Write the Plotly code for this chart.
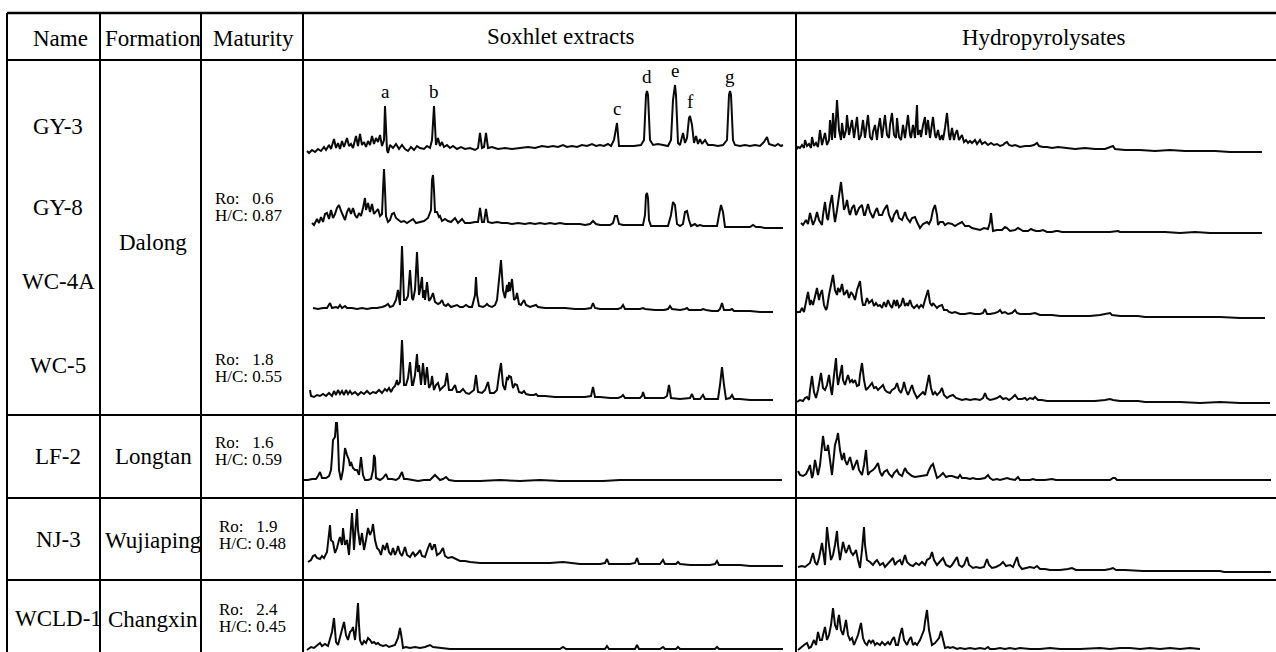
import plotly.graph_objects as go

# ---------------------------------------------------------------------------
# Chromatogram traces: (retention time [min], abundance [arb. units])
# ---------------------------------------------------------------------------
SOX_GY3 = [(5.7,9),(5.9,7),(6.2,10),(6.5,8),(6.8,11),(7.1,9),(7.4,13),(7.6,10),(7.9,15),(8.1,11),(8.4,21),(8.6,12),(8.8,17),(9.0,11),(9.2,19),(9.4,13),(9.7,22),(9.9,14),(10.1,16),(10.3,12),(10.6,24),(10.8,14),(11.0,26),(11.2,15),(11.4,18),(11.6,13),(11.8,19),(12.0,15),(12.2,24),(12.4,16),(12.6,22),(12.8,18),(13.0,25),(13.2,14),(13.4,20),(13.5,54),(13.7,10),(13.8,7),(14.0,15),(14.3,12),(14.6,16),(14.9,11),(15.2,15),(15.5,11),(15.8,9),(16.1,13),(16.4,10),(16.7,14),(17.0,12),(17.4,11),(17.7,14),(18.0,12),(18.2,20),(18.4,54),(18.6,15),(18.8,22),(19.0,14),(19.2,18),(19.4,13),(19.7,15),(20.0,12),(20.3,14),(20.7,11),(21.1,13),(21.5,11),(22.0,12),(22.5,10),(22.8,12),(23.0,27),(23.2,12),(23.4,13),(23.6,27),(23.8,12),(24.2,13),(24.8,11),(25.5,12),(26.2,11),(27.0,12),(27.8,13),(28.5,12),(29.2,14),(29.8,13),(30.3,14),(30.8,13),(31.3,15),(31.7,13),(32.2,14),(32.7,13),(33.2,15),(33.7,14),(34.2,16),(34.6,14),(35.0,15),(35.4,14),(35.8,16),(36.1,14),(36.4,20),(36.7,37),(36.9,14),(37.2,14),(37.8,14),(38.4,14),(39.1,15),(39.4,20),(39.6,65),(39.7,69),(39.8,65),(40.0,20),(40.3,15),(40.8,16),(41.3,15),(41.8,14),(42.1,20),(42.3,60),(42.5,75),(42.6,65),(42.8,17),(43.0,15),(43.3,27),(43.5,17),(43.7,22),(43.9,42),(44.0,44),(44.2,35),(44.4,17),(44.6,24),(44.8,16),(45.0,21),(45.2,16),(45.5,20),(45.8,15),(46.3,15),(46.8,14),(47.3,15),(47.7,20),(47.9,65),(48.0,69),(48.1,65),(48.3,20),(48.5,15),(49.0,14),(49.5,15),(50.0,14),(50.5,15),(51.0,14),(51.4,18),(51.7,23),(51.9,16),(52.2,15),(52.5,14),(52.8,16),(53.1,14),(53.3,15)]

SOX_GY8 = [(6.2,17),(6.4,15),(6.7,21),(6.9,17),(7.1,23),(7.3,18),(7.5,26),(7.7,27),(7.9,21),(8.1,30),(8.3,22),(8.5,26),(8.7,32),(8.9,35),(9.1,29),(9.3,25),(9.5,20),(9.7,28),(9.9,32),(10.1,26),(10.3,32),(10.5,25),(10.7,22),(10.9,27),(11.1,24),(11.3,32),(11.5,42),(11.6,30),(11.8,37),(12.0,28),(12.2,36),(12.4,26),(12.6,28),(12.8,31),(13.0,24),(13.2,26),(13.3,50),(13.4,71),(13.5,50),(13.6,24),(13.8,18),(14.0,20),(14.2,26),(14.4,27),(14.6,22),(14.8,20),(15.1,18),(15.4,19),(15.7,17),(16.0,19),(16.3,21),(16.6,17),(17.0,18),(17.4,19),(17.8,22),(18.1,30),(18.2,60),(18.3,65),(18.4,50),(18.5,28),(18.7,28),(18.9,23),(19.0,24),(19.2,19),(19.5,21),(19.8,19),(20.1,18),(20.5,22),(20.8,17),(21.2,21),(21.5,17),(22.0,17),(22.5,18),(22.8,18),(23.0,32),(23.2,18),(23.4,18),(23.6,31),(23.8,18),(24.2,17),(24.7,18),(25.2,17),(25.7,17),(26.2,16),(26.8,17),(27.5,16),(28.0,17),(28.5,16),(29.0,17),(29.5,16),(30.0,17),(30.5,16),(31.0,17),(31.5,16),(32.0,16),(32.5,16),(33.0,16),(33.5,15),(34.0,16),(34.3,19),(34.6,16),(35.0,15),(35.5,15),(36.0,15),(36.3,17),(36.5,24),(36.7,24),(36.9,16),(37.3,15),(38.0,15),(38.7,15),(39.3,15),(39.5,25),(39.6,45),(39.7,47),(39.8,42),(39.9,20),(40.1,14),(40.6,14),(41.2,14),(41.8,14),(42.1,25),(42.3,38),(42.5,35),(42.7,16),(43.0,14),(43.3,16),(43.5,28),(43.7,29),(43.9,20),(44.1,14),(44.3,15),(44.5,16),(44.7,14),(45.0,15),(45.3,14),(45.7,14),(46.2,14),(46.7,14),(46.9,25),(47.1,35),(47.3,28),(47.5,13),(48.0,13),(48.5,13),(49.0,13),(49.5,13),(50.0,13),(50.3,15),(50.6,13),(51.0,13),(51.5,12),(52.0,12),(52.5,12),(53.0,12),(53.3,12)]

SOX_WC4A = [(6.3,12),(6.8,11),(7.3,12),(7.7,12),(8.0,17),(8.2,12),(8.6,13),(8.8,12),(9.0,15),(9.2,12),(9.5,14),(9.7,12),(10.2,12),(10.7,11),(11.2,12),(11.7,11),(12.2,12),(12.7,12),(13.2,13),(13.5,14),(13.8,16),(14.0,13),(14.3,14),(14.6,20),(14.8,30),(14.9,22),(15.0,15),(15.2,74),(15.4,20),(15.6,20),(15.8,24),(16.0,50),(16.2,22),(16.3,20),(16.5,30),(16.7,68),(16.9,25),(17.0,30),(17.2,43),(17.3,22),(17.4,30),(17.5,20),(17.7,38),(17.9,19),(18.1,22),(18.3,27),(18.5,18),(18.8,16),(19.0,17),(19.2,20),(19.4,15),(19.6,14),(19.8,16),(20.1,13),(20.4,14),(20.7,15),(21.0,13),(21.3,13),(21.6,15),(21.9,13),(22.2,13),(22.5,25),(22.6,43),(22.7,25),(22.9,14),(23.3,13),(23.5,14),(23.7,16),(23.9,14),(24.2,13),(24.5,15),(24.7,20),(24.9,40),(25.1,60),(25.3,30),(25.5,22),(25.7,35),(25.8,28),(25.9,38),(26.0,29),(26.2,41),(26.4,20),(26.6,22),(26.7,27),(26.9,16),(27.1,15),(27.4,20),(27.6,15),(28.0,13),(28.4,14),(28.6,15),(28.8,13),(29.5,12),(30.5,12),(31.5,12),(32.5,11),(33.5,11),(34.1,12),(34.3,17),(34.5,12),(35.0,11),(36.0,11),(36.8,11),(37.1,12),(37.3,15),(37.5,11),(38.2,11),(39.0,11),(39.3,12),(39.5,11),(40.5,10),(41.4,10),(41.8,11),(42.0,14),(42.2,11),(43.0,10),(43.5,11),(43.7,12),(43.9,10),(44.5,10),(45.1,10),(45.3,11),(45.6,10),(46.2,9),(46.8,9),(47.0,11),(47.2,17),(47.4,10),(48.0,10),(48.2,11),(48.4,9),(49.0,9),(50.0,9),(51.0,8),(52.3,8)]

SOX_WC5 = [(6.0,20),(6.1,14),(6.4,13),(6.7,15),(7.0,14),(7.3,16),(7.6,14),(7.9,17),(8.2,14),(8.4,19),(8.6,15),(8.8,20),(9.0,16),(9.2,19),(9.4,15),(9.6,20),(9.8,16),(10.0,19),(10.2,16),(10.5,18),(10.8,15),(11.1,18),(11.4,16),(11.7,19),(12.0,16),(12.3,18),(12.6,17),(12.9,20),(13.2,17),(13.5,21),(13.7,19),(13.9,22),(14.1,18),(14.3,22),(14.5,24),(14.7,30),(14.8,25),(15.0,28),(15.2,70),(15.4,25),(15.6,25),(15.8,32),(16.0,48),(16.2,25),(16.3,25),(16.5,35),(16.7,56),(16.8,38),(16.9,45),(17.1,25),(17.3,47),(17.5,25),(17.7,43),(17.9,22),(18.1,26),(18.2,34),(18.4,20),(18.6,25),(18.8,27),(19.0,20),(19.2,22),(19.5,25),(19.7,37),(19.9,20),(20.2,20),(20.5,25),(20.7,18),(21.0,18),(21.3,21),(21.6,17),(21.9,16),(22.2,18),(22.4,20),(22.6,35),(22.8,18),(23.2,17),(23.5,20),(23.8,28),(24.0,17),(24.4,17),(24.7,20),(24.9,35),(25.1,47),(25.3,25),(25.5,20),(25.7,33),(25.8,30),(25.9,34),(26.1,33),(26.3,22),(26.5,26),(26.7,25),(26.9,18),(27.2,17),(27.4,19),(27.6,16),(28.0,15),(28.4,15),(28.6,16),(28.8,14),(29.5,14),(30.5,13),(31.5,13),(32.5,13),(33.5,13),(34.1,14),(34.3,23),(34.5,13),(35.0,13),(36.0,12),(36.8,12),(37.1,13),(37.3,15),(37.5,12),(38.2,12),(39.0,12),(39.2,14),(39.3,18),(39.5,12),(40.5,12),(41.4,12),(41.7,14),(41.9,25),(42.1,12),(43.0,11),(44.0,12),(44.2,16),(44.4,11),(45.0,11),(45.3,15),(45.5,11),(46.2,11),(46.8,11),(47.0,25),(47.2,43),(47.4,25),(47.6,11),(48.0,12),(48.2,15),(48.4,11),(49.0,11),(50.0,10),(51.0,10),(52.3,10)]

SOX_LF2 = [(5.4,18),(5.8,18),(6.2,19),(6.6,19),(6.8,22),(7.0,26),(7.2,20),(7.6,20),(7.9,22),(8.1,28),(8.2,41),(8.3,58),(8.5,61),(8.6,75),(8.7,75),(8.8,58),(8.9,28),(9.1,18),(9.3,28),(9.5,50),(9.7,43),(9.9,38),(10.0,32),(10.1,36),(10.3,30),(10.5,28),(10.7,28),(10.9,23),(11.1,41),(11.3,23),(11.5,18),(11.8,18),(12.1,19),(12.3,28),(12.4,43),(12.5,40),(12.6,20),(13.0,18),(13.3,20),(13.6,24),(13.8,19),(14.2,19),(14.6,18),(14.9,20),(15.2,26),(15.4,19),(15.7,19),(16.2,18),(16.8,17),(17.4,18),(18.0,18),(18.3,21),(18.5,23),(18.7,21),(19.0,18),(19.3,19),(19.6,21),(19.9,18),(20.5,17),(21.5,17),(23.0,17),(25.0,18),(27.0,17),(29.0,18),(31.0,17),(33.0,17),(35.3,17),(37.0,18),(40.0,18),(45.0,18),(50.0,18),(53.2,18)]

SOX_NJ3 = [(5.8,18),(6.1,20),(6.3,24),(6.5,25),(6.7,22),(7.0,21),(7.2,24),(7.4,22),(7.7,28),(7.9,45),(8.0,55),(8.1,40),(8.3,38),(8.5,27),(8.7,32),(8.9,40),(9.0,43),(9.2,35),(9.3,52),(9.5,35),(9.7,40),(9.9,25),(10.1,50),(10.2,67),(10.3,50),(10.4,30),(10.5,45),(10.7,71),(10.8,50),(11.0,35),(11.2,47),(11.4,30),(11.6,40),(11.8,52),(12.0,45),(12.2,50),(12.3,56),(12.5,40),(12.7,32),(12.9,30),(13.1,25),(13.3,35),(13.5,30),(13.7,37),(13.9,28),(14.1,25),(14.3,32),(14.5,25),(14.7,30),(14.8,34),(15.0,27),(15.2,24),(15.4,30),(15.5,33),(15.7,25),(16.0,23),(16.3,28),(16.5,24),(16.8,27),(17.0,30),(17.2,24),(17.5,23),(17.8,32),(18.0,37),(18.2,30),(18.4,35),(18.5,35),(18.7,25),(19.0,27),(19.3,32),(19.5,24),(19.8,22),(20.2,23),(20.6,21),(21.0,19),(21.5,19),(22.0,18),(23.0,17),(24.0,17),(25.0,17),(26.0,17),(27.0,17),(28.0,17),(29.0,17),(30.0,17),(31.3,18),(32.0,17),(33.0,16),(34.0,16),(35.0,16),(35.5,17),(35.7,21),(35.9,16),(37.0,16),(38.0,16),(38.5,17),(38.7,22),(38.9,16),(40.0,16),(41.0,16),(41.3,20),(41.5,16),(42.6,16),(42.8,18),(43.0,16),(44.0,15),(45.0,15),(46.0,15),(46.5,16),(46.7,19),(46.9,15),(48.0,15),(49.0,15),(50.0,14),(51.0,14),(52.0,14),(53.3,14)]

SOX_WCLD1 = [(5.7,2),(6.1,5),(6.4,4),(6.7,7),(7.0,9),(7.2,6),(7.5,8),(7.8,6),(8.0,12),(8.2,20),(8.3,27),(8.4,34),(8.5,22),(8.6,10),(8.8,7),(9.0,14),(9.2,22),(9.4,30),(9.6,17),(9.8,12),(10.0,20),(10.2,22),(10.3,25),(10.5,12),(10.6,22),(10.7,42),(10.8,49),(10.9,27),(11.0,12),(11.2,7),(11.4,11),(11.6,9),(11.8,14),(12.0,12),(12.2,9),(12.4,10),(12.6,8),(12.8,9),(13.0,7),(13.3,6),(13.6,7),(13.9,5),(14.2,6),(14.5,7),(14.8,14),(15.0,24),(15.2,12),(15.3,4),(15.6,5),(16.0,4),(16.5,5),(17.0,4),(17.5,5),(18.0,7),(18.3,5),(19.0,4),(20.0,3),(21.0,3),(23.0,3),(25.0,3),(27.0,3),(28.3,3),(29.5,3),(31.0,3),(31.3,5),(31.6,3),(33.0,3),(35.0,3),(35.5,3),(35.7,6),(35.9,3),(37.0,3),(38.0,3),(38.5,3),(38.7,7),(38.9,3),(40.0,3),(41.0,3),(41.3,5),(41.5,3),(42.6,3),(42.8,5),(43.0,3),(45.0,3),(46.5,3),(46.7,5),(46.9,3),(49.0,3),(51.0,3),(53.3,3)]

HYD_GY3 = [(4.6,10),(4.8,13),(5.0,12),(5.2,15),(5.4,12),(5.5,20),(5.7,14),(5.9,16),(6.1,12),(6.2,23),(6.4,14),(6.6,17),(6.8,13),(7.0,30),(7.2,15),(7.3,20),(7.5,27),(7.7,15),(7.9,20),(8.0,40),(8.2,20),(8.3,47),(8.5,22),(8.7,60),(8.9,30),(9.1,20),(9.2,37),(9.4,22),(9.6,30),(9.7,45),(9.9,25),(10.0,30),(10.2,40),(10.4,22),(10.5,28),(10.7,43),(10.9,20),(11.1,25),(11.3,40),(11.5,22),(11.6,30),(11.8,45),(12.0,23),(12.2,20),(12.3,28),(12.5,35),(12.7,20),(12.8,30),(13.0,42),(13.2,22),(13.3,30),(13.5,45),(13.7,25),(13.9,22),(14.0,35),(14.2,47),(14.4,25),(14.6,22),(14.7,42),(14.9,23),(15.1,20),(15.3,35),(15.5,22),(15.6,32),(15.8,45),(16.0,25),(16.1,22),(16.3,35),(16.5,22),(16.7,55),(16.8,25),(17.0,30),(17.1,23),(17.3,35),(17.5,43),(17.6,25),(17.8,40),(18.0,22),(18.1,30),(18.3,43),(18.5,25),(18.6,22),(18.8,30),(19.0,20),(19.2,25),(19.3,20),(19.5,32),(19.7,47),(19.9,25),(20.0,20),(20.2,32),(20.4,20),(20.5,25),(20.7,30),(20.9,20),(21.0,22),(21.2,25),(21.4,18),(21.6,20),(21.8,17),(22.0,19),(22.2,17),(22.5,20),(22.7,16),(23.0,20),(23.2,16),(23.5,18),(23.8,15),(24.1,17),(24.4,15),(24.7,16),(25.0,14),(25.3,15),(25.5,17),(25.7,18),(25.9,15),(26.2,14),(26.5,15),(27.0,13),(27.5,14),(28.0,14),(28.4,15),(28.7,17),(28.9,14),(29.3,13),(29.7,13),(30.2,12),(30.8,13),(31.5,12),(32.5,11),(33.5,12),(34.5,11),(35.5,11),(36.1,13),(36.3,14),(36.5,11),(37.5,10),(39.0,10),(40.5,9),(42.0,10),(43.5,9),(45.0,9),(46.5,9),(48.0,8),(49.5,8),(51.2,8)]

HYD_GY8 = [(5.1,17),(5.3,15),(5.6,20),(5.8,16),(6.0,27),(6.2,18),(6.3,15),(6.5,20),(6.7,28),(6.9,20),(7.2,15),(7.3,25),(7.5,38),(7.7,22),(7.8,20),(8.0,35),(8.2,45),(8.4,25),(8.5,18),(8.7,30),(8.9,45),(9.1,58),(9.3,40),(9.4,30),(9.6,35),(9.7,40),(9.9,28),(10.0,25),(10.2,32),(10.4,35),(10.6,25),(10.7,28),(10.9,32),(11.2,35),(11.4,25),(11.5,25),(11.7,32),(11.8,36),(12.0,28),(12.3,22),(12.5,28),(12.7,32),(12.9,25),(13.2,25),(13.4,30),(13.7,35),(13.9,25),(14.2,18),(14.4,25),(14.7,30),(14.9,22),(15.2,20),(15.4,25),(15.5,28),(15.7,22),(16.0,18),(16.2,22),(16.5,23),(16.7,18),(17.0,12),(17.3,16),(17.7,18),(17.9,16),(18.1,20),(18.3,30),(18.5,35),(18.7,25),(18.8,15),(19.0,18),(19.3,18),(19.5,15),(19.8,17),(20.2,16),(20.5,14),(20.8,16),(21.2,18),(21.5,14),(21.9,14),(22.2,12),(22.6,11),(23.0,10),(23.4,12),(23.8,11),(24.0,18),(24.1,27),(24.3,9),(24.7,10),(25.2,10),(25.5,13),(25.7,12),(26.0,9),(26.5,10),(26.8,12),(27.0,11),(27.3,9),(27.8,9),(28.1,11),(28.3,10),(28.6,9),(29.0,9),(29.3,10),(29.7,8),(30.2,8),(30.6,9),(30.8,9),(31.2,8),(32.0,8),(33.0,8),(34.0,8),(35.0,8),(36.0,8),(36.8,9),(37.0,8),(38.5,8),(40.0,8),(41.5,8),(43.0,7),(44.5,8),(46.0,7),(47.5,7),(49.0,7),(51.2,7)]

HYD_WC4A = [(4.5,5),(4.7,8),(5.0,8),(5.2,12),(5.4,8),(5.6,20),(5.8,28),(6.0,15),(6.1,20),(6.3,15),(6.5,25),(6.7,32),(6.9,20),(7.0,25),(7.2,30),(7.4,15),(7.6,10),(7.7,12),(7.9,25),(8.1,35),(8.3,45),(8.5,30),(8.7,25),(8.8,32),(9.0,28),(9.2,36),(9.4,25),(9.6,28),(9.7,30),(9.9,22),(10.1,28),(10.3,25),(10.5,20),(10.7,30),(11.0,39),(11.2,20),(11.3,15),(11.5,15),(11.7,22),(11.9,17),(12.2,20),(12.4,14),(12.6,17),(12.8,14),(13.0,15),(13.2,12),(13.4,18),(13.6,13),(13.8,20),(14.0,15),(14.2,12),(14.4,20),(14.6,14),(14.7,20),(14.9,13),(15.1,15),(15.3,22),(15.5,14),(15.7,17),(15.8,14),(16.0,20),(16.2,14),(16.4,12),(16.7,15),(16.9,12),(17.1,15),(17.3,13),(17.5,20),(17.7,28),(17.8,30),(18.0,17),(18.2,14),(18.3,17),(18.5,15),(18.7,12),(18.9,14),(19.2,15),(19.4,10),(19.7,10),(19.9,8),(20.2,7),(20.5,8),(20.7,7),(21.0,6),(21.5,6),(22.0,7),(22.5,6),(23.0,6),(23.3,7),(23.5,11),(23.7,6),(24.0,6),(24.5,7),(24.8,8),(25.0,10),(25.2,7),(25.5,8),(25.8,6),(26.2,7),(26.5,10),(26.7,7),(27.0,6),(27.5,6),(28.0,6),(28.5,7),(29.0,5),(29.5,5),(30.2,5),(31.0,4),(32.0,4),(33.0,4),(34.0,4),(35.0,5),(35.8,6),(36.0,7),(36.2,5),(37.0,4),(38.0,4),(38.8,4),(39.5,3),(41.0,3),(43.0,3),(45.0,3),(47.0,3),(49.0,2),(51.5,2)]

HYD_WC5 = [(4.7,8),(5.0,10),(5.3,9),(5.5,12),(5.7,13),(5.9,10),(6.0,20),(6.2,34),(6.4,18),(6.6,12),(6.8,20),(7.1,37),(7.3,22),(7.5,20),(7.7,25),(7.9,35),(8.1,20),(8.2,15),(8.4,35),(8.6,52),(8.7,35),(8.8,25),(9.0,35),(9.2,45),(9.3,30),(9.5,25),(9.7,32),(9.8,35),(10.0,28),(10.2,30),(10.3,27),(10.5,30),(10.7,24),(10.9,25),(11.0,35),(11.2,47),(11.4,30),(11.6,20),(11.8,22),(12.0,25),(12.2,27),(12.4,22),(12.6,23),(12.8,20),(13.0,22),(13.3,25),(13.5,20),(13.7,18),(14.0,17),(14.2,20),(14.5,22),(14.7,27),(14.9,20),(15.1,17),(15.3,23),(15.4,28),(15.6,20),(15.8,15),(16.0,20),(16.2,25),(16.4,18),(16.7,12),(17.0,15),(17.3,18),(17.5,15),(17.7,25),(17.9,35),(18.1,22),(18.3,15),(18.5,18),(18.7,15),(19.0,18),(19.2,22),(19.4,15),(19.7,12),(20.0,14),(20.3,15),(20.6,12),(20.9,11),(21.2,10),(21.6,11),(22.0,10),(22.5,11),(23.0,10),(23.3,12),(23.5,17),(23.7,12),(24.0,10),(24.4,11),(24.7,12),(25.0,14),(25.3,11),(25.6,12),(25.9,10),(26.2,12),(26.5,15),(26.8,11),(27.2,11),(27.5,12),(27.7,10),(28.0,12),(28.3,11),(28.5,13),(28.8,10),(29.2,10),(29.7,9),(30.5,9),(31.5,9),(32.5,9),(33.5,9),(34.5,9),(35.5,10),(35.8,11),(36.0,11),(36.3,10),(37.0,9),(38.0,9),(38.8,9),(39.5,8),(40.5,8),(41.7,8),(43.0,8),(45.0,7),(47.0,8),(49.0,7),(52.0,7)]

HYD_LF2 = [(4.8,27),(5.0,23),(5.3,22),(5.6,24),(5.8,28),(6.0,33),(6.2,20),(6.3,23),(6.5,38),(6.7,28),(6.8,23),(7.0,33),(7.2,53),(7.3,62),(7.5,48),(7.7,48),(7.8,53),(8.0,36),(8.2,23),(8.3,33),(8.5,53),(8.7,60),(8.8,65),(9.0,48),(9.2,38),(9.4,45),(9.5,38),(9.7,33),(9.9,38),(10.0,41),(10.2,33),(10.3,28),(10.5,33),(10.7,38),(10.9,28),(11.2,23),(11.4,33),(11.6,48),(11.8,23),(12.0,26),(12.3,28),(12.5,30),(12.8,35),(13.0,26),(13.2,22),(13.4,26),(13.7,28),(13.9,24),(14.2,21),(14.4,25),(14.7,28),(14.9,24),(15.2,22),(15.4,28),(15.5,30),(15.7,26),(16.0,23),(16.2,22),(16.5,21),(17.0,22),(17.5,23),(17.7,23),(17.9,28),(18.1,32),(18.3,34),(18.5,28),(18.7,20),(19.0,22),(19.3,25),(19.6,21),(19.9,22),(20.2,22),(20.5,21),(20.8,20),(21.0,23),(21.2,20),(21.6,20),(22.0,19),(22.3,20),(22.6,19),(23.0,19),(23.5,20),(23.8,23),(24.0,20),(24.3,18),(24.7,19),(25.0,18),(25.4,19),(25.7,20),(26.0,19),(26.5,18),(26.8,21),(27.0,18),(27.5,18),(28.0,18),(28.3,19),(28.6,18),(29.5,18),(30.2,19),(30.6,18),(31.5,18),(33.0,18),(34.5,18),(36.0,18),(36.3,20),(36.5,20),(36.7,18),(37.0,18),(39.0,18),(42.0,18),(45.0,18),(48.0,18),(52.1,18)]

HYD_NJ3 = [(4.8,13),(5.2,14),(5.5,13),(5.8,15),(6.0,17),(6.3,27),(6.5,18),(6.7,15),(6.9,22),(7.2,37),(7.4,20),(7.5,15),(7.6,35),(7.7,53),(7.9,35),(8.1,20),(8.3,25),(8.5,35),(8.7,49),(8.8,35),(9.0,20),(9.1,25),(9.3,38),(9.5,30),(9.6,27),(9.8,32),(9.9,35),(10.1,28),(10.3,25),(10.5,28),(10.6,30),(10.8,20),(11.0,12),(11.2,30),(11.4,53),(11.5,35),(11.7,20),(12.0,18),(12.3,15),(12.5,18),(12.7,20),(13.0,15),(13.3,17),(13.5,13),(13.7,15),(14.0,18),(14.3,22),(14.5,15),(14.7,18),(15.0,20),(15.2,15),(15.5,25),(15.7,18),(16.0,15),(16.3,14),(16.6,17),(16.9,15),(17.2,18),(17.5,15),(17.7,20),(18.0,22),(18.2,28),(18.4,20),(18.7,15),(19.0,18),(19.3,22),(19.6,15),(19.8,14),(20.0,13),(20.2,15),(20.5,20),(20.7,23),(20.9,15),(21.2,13),(21.4,15),(21.7,23),(21.9,15),(22.3,12),(22.6,13),(23.0,12),(23.4,13),(23.7,21),(23.9,15),(24.2,12),(24.6,13),(25.0,15),(25.3,18),(25.6,14),(26.0,15),(26.3,13),(26.5,18),(26.7,23),(26.9,15),(27.2,11),(27.6,12),(28.0,13),(28.4,12),(28.7,14),(29.0,11),(29.5,11),(30.0,10),(30.3,10),(31.0,10),(31.8,11),(32.2,12),(32.6,10),(33.5,10),(34.5,10),(35.5,10),(36.0,11),(36.3,12),(36.6,10),(37.5,10),(39.3,9),(41.0,9),(43.0,9),(45.0,9),(47.0,9),(47.4,8),(49.0,8),(50.5,8),(52.1,8)]

HYD_WCLD1 = [(4.8,2),(5.1,5),(5.4,7),(5.7,9),(5.9,4),(6.1,5),(6.4,12),(6.6,7),(6.8,20),(7.0,12),(7.2,12),(7.3,17),(7.5,25),(7.7,12),(7.9,17),(8.1,27),(8.3,44),(8.5,27),(8.7,22),(8.8,32),(8.9,37),(9.1,22),(9.3,17),(9.5,27),(9.6,32),(9.8,17),(10.0,12),(10.2,14),(10.4,7),(10.6,12),(10.8,17),(11.1,29),(11.3,14),(11.5,9),(11.7,7),(11.9,12),(12.1,9),(12.3,12),(12.5,7),(12.7,9),(13.0,7),(13.2,10),(13.5,7),(13.8,10),(14.0,7),(14.2,12),(14.4,15),(14.6,7),(14.8,7),(15.0,17),(15.2,24),(15.4,12),(15.7,7),(15.9,12),(16.1,15),(16.3,7),(16.5,9),(16.7,7),(17.0,12),(17.2,17),(17.4,22),(17.5,30),(17.7,42),(17.9,22),(18.1,12),(18.2,7),(18.5,9),(18.7,12),(18.9,14),(19.1,21),(19.3,12),(19.5,4),(19.8,5),(20.0,4),(20.3,5),(20.7,3),(21.0,4),(21.5,3),(22.0,4),(22.5,3),(23.0,4),(23.5,3),(23.8,5),(24.0,3),(24.5,3),(25.0,4),(25.5,3),(26.0,4),(26.5,3),(27.0,4),(28.0,3),(29.0,3),(30.0,4),(31.0,3),(33.0,3),(35.0,4),(36.0,3),(37.0,4),(38.0,4),(39.0,3),(40.0,4),(41.0,3),(42.0,4),(43.0,3),(44.0,4),(45.0,3)]

SOXHLET = [SOX_GY3, SOX_GY8, SOX_WC4A, SOX_WC5, SOX_LF2, SOX_NJ3, SOX_WCLD1]
HYDRO = [HYD_GY3, HYD_GY8, HYD_WC4A, HYD_WC5, HYD_LF2, HYD_NJ3, HYD_WCLD1]

# table text
HEADERS = ["Name", "Formation", "Maturity", "Soxhlet extracts", "Hydropyrolysates"]
SAMPLES = ["GY-3", "GY-8", "WC-4A", "WC-5", "LF-2", "NJ-3", "WCLD-1"]
FORMATIONS = ["Dalong", "Longtan", "Wujiaping", "Changxin"]
RO = ["0.6", "1.8", "1.6", "1.9", "2.4"]
HC = ["0.87", "0.55", "0.59", "0.48", "0.45"]

# compound peaks marked on the GY-3 Soxhlet trace
PEAK_LETTERS = ["a", "b", "c", "d", "e", "f", "g"]
PEAK_TIMES = [13.5, 18.4, 36.7, 39.7, 42.5, 44.0, 48.0]

# ---------------------------------------------------------------------------
# Page geometry (pixels)
# ---------------------------------------------------------------------------
W, H = 1276, 652
FONT = "Liberation Serif"
ROW_BANDS = [(60, 160), (160, 240), (240, 320), (320, 410), (415, 498), (498, 580), (580, 652)]
SOX_SPAN, SOX_RT = (303, 797), (5.3, 54.7)
HYD_SPAN, HYD_RT = (795, 1276), (4.5, 52.6)

NAME_X, FORM_X, MAT_X = 58, 153, [213, 213, 213, 217, 217]
SAMPLE_Y = [127, 207, 282, 365, 456, 539, 618]
FORM_Y = [243, 457, 540, 619]
RO_Y = [198, 359, 442, 526, 609]
HC_Y = [215, 376, 459, 543, 626]


def fx(x):
    return x / W


def fy(y):
    return 1 - y / H


fig = go.Figure()

axes = {
    "xaxis": dict(domain=[fx(SOX_SPAN[0]), fx(SOX_SPAN[1])], range=list(SOX_RT), anchor="y"),
    "xaxis2": dict(domain=[fx(HYD_SPAN[0]), fx(HYD_SPAN[1])], range=list(HYD_RT), anchor="y"),
}
for i, (top, bot) in enumerate(ROW_BANDS):
    key = "yaxis" if i == 0 else f"yaxis{i + 1}"
    axes[key] = dict(domain=[fy(bot), fy(top)], range=[0, bot - top], anchor="x")
for ax in axes.values():
    ax.update(visible=False, showgrid=False, zeroline=False, fixedrange=True)

TRACE_LINE = dict(color="#0a0a0a", width=2)
for i, (sox, hyd) in enumerate(zip(SOXHLET, HYDRO)):
    yref = "y" if i == 0 else f"y{i + 1}"
    for data, xref in ((sox, "x"), (hyd, "x2")):
        t, a = zip(*data)
        fig.add_trace(go.Scatter(x=list(t), y=list(a), xaxis=xref, yaxis=yref, mode="lines",
                                 line=TRACE_LINE, hoverinfo="skip", showlegend=False))

# table rules
shapes = []
GRID = dict(color="black", width=2)
for x in (7, 100, 201, 303, 796):
    shapes.append(dict(type="line", xref="paper", yref="paper", x0=fx(x), x1=fx(x),
                       y0=fy(13), y1=0, line=GRID))
for y in (13, 60, 415, 498, 580):
    shapes.append(dict(type="line", xref="paper", yref="paper", x0=fx(7), x1=1,
                       y0=fy(y), y1=fy(y), line=dict(color="black", width=2.5 if y == 13 else 2)))

ann = []


def text(s, x, y, size, anchor="center"):
    ann.append(dict(text=s, x=fx(x), y=fy(y), xref="paper", yref="paper", showarrow=False,
                    xanchor=anchor, yanchor="middle", font=dict(family=FONT, size=size, color="black")))


for s, x, y in zip(HEADERS, (60, 153, 253, 561, 1044), (39, 39, 39, 36, 37)):
    text(s, x, y, 23)
for s, y in zip(SAMPLES, SAMPLE_Y):
    text(s, NAME_X, y, 23)
for s, y in zip(FORMATIONS, FORM_Y):
    text(s, FORM_X, y, 23)
for ro, hc, x, yr, yh in zip(RO, HC, MAT_X, RO_Y, HC_Y):
    text("Ro:\u00a0\u00a0\u00a0" + ro, x, yr, 17, "left")
    text("H/C:\u00a0" + hc, x, yh, 17, "left")

for letter, pt in zip(PEAK_LETTERS, PEAK_TIMES):
    top = max(a for t, a in SOX_GY3 if abs(t - pt) < 0.05)
    ann.append(dict(text=letter, x=pt, y=top, xref="x", yref="y", showarrow=False,
                    xanchor="center", yanchor="bottom", yshift=2,
                    font=dict(family=FONT, size=19, color="black")))

fig.update_layout(
    width=W, height=H, autosize=False,
    margin=dict(l=0, r=0, t=0, b=0, pad=0),
    paper_bgcolor="white", plot_bgcolor="rgba(0,0,0,0)",
    shapes=shapes, annotations=ann, showlegend=False,
    **axes,
)

fig.write_html("out.html")
